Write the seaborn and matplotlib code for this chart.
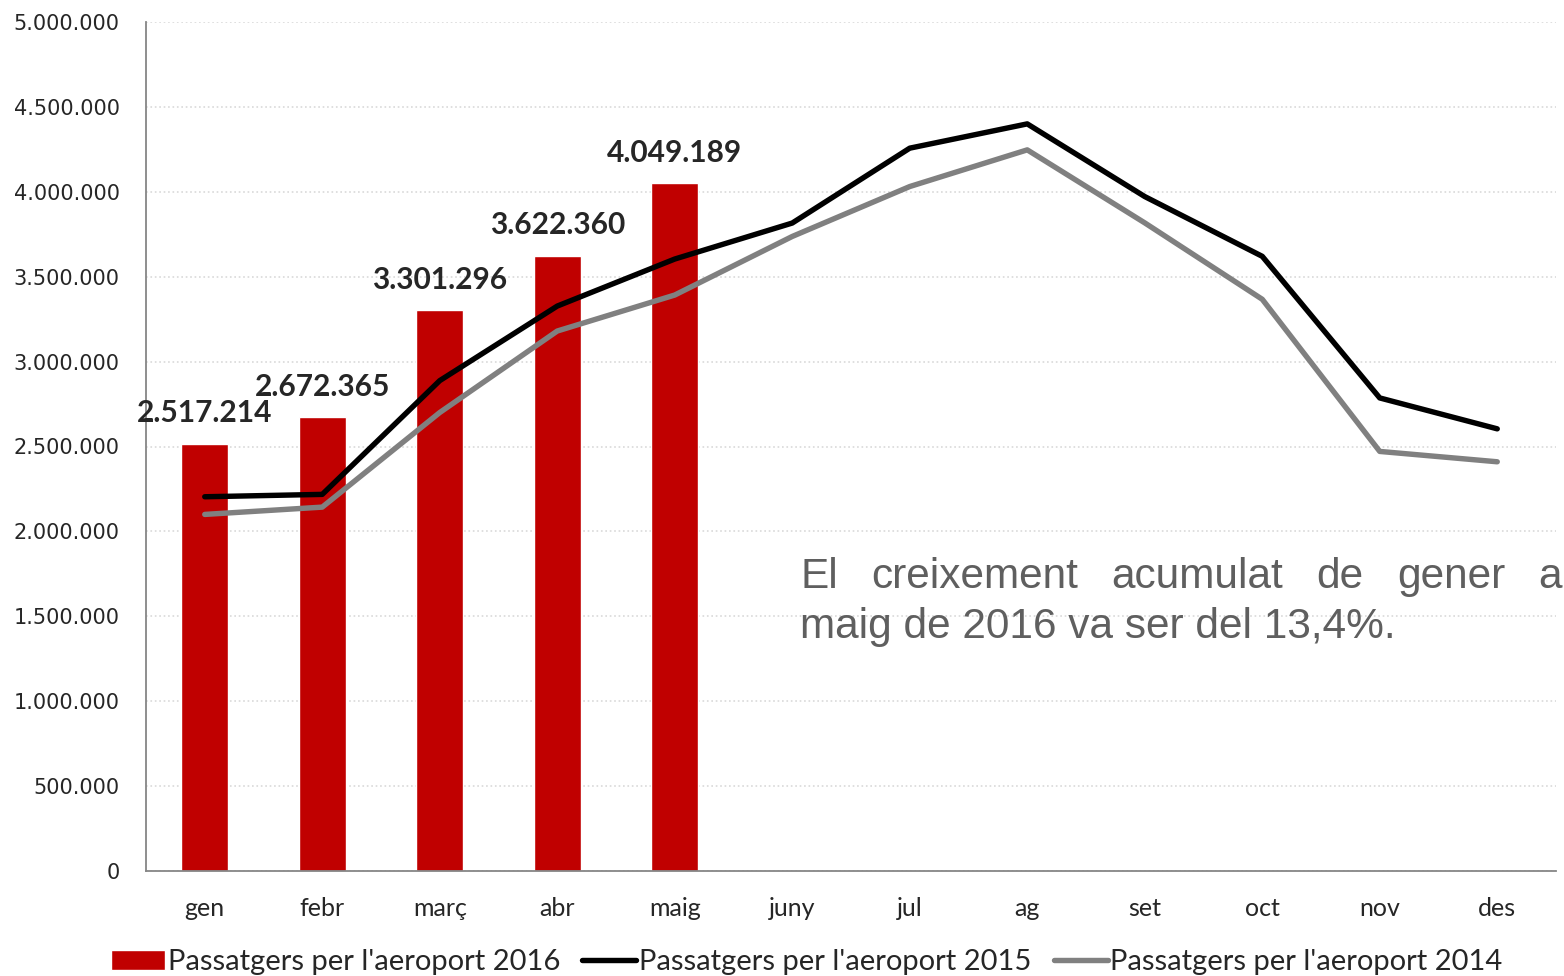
import numpy as np
import pandas as pd
import matplotlib
matplotlib.use("Agg")
import matplotlib.pyplot as plt
from matplotlib.ticker import FuncFormatter, FixedLocator
import seaborn as sns

# data
months = ["gen", "febr", "març", "abr", "maig", "juny", "jul", "ag", "set", "oct", "nov", "des"]
months_2016 = ["gen", "febr", "març", "abr", "maig"]
pax_2016 = [2517214, 2672365, 3301296, 3622360, 4049189]
pax_2015 = [2204000, 2218000, 2888000, 3327000, 3604000, 3816000,
            4257000, 4400000, 3972000, 3620000, 2786000, 2604000]
pax_2014 = [2100000, 2143000, 2700000, 3180000, 3392000, 3737000,
            4031000, 4247000, 3817000, 3367000, 2471000, 2410000]
y_ticks = list(range(0, 5000001, 500000))

lbl16 = "Passatgers per l'aeroport 2016"
lbl15 = "Passatgers per l'aeroport 2015"
lbl14 = "Passatgers per l'aeroport 2014"
note_1 = "El creixement acumulat de gener a"
note_2 = "maig de 2016 va ser del 13,4%."

sns.set_style("white")
plt.rcParams["font.family"] = ["DejaVu Sans"]

def dots(v, pos=None):
    return f"{int(v):,}".replace(",", ".")

fig = plt.figure(figsize=(15.64, 9.76), dpi=100)
ax = fig.add_axes([146 / 1564, 1 - 871 / 976, (1556 - 146) / 1564, (871 - 22) / 976])

bars_df = pd.DataFrame({"month": months_2016, "pax": pax_2016})
sns.barplot(data=bars_df, x="month", y="pax", order=months, color="#C00000",
            saturation=1, width=0.4, ax=ax, label=lbl16)

pos = np.arange(len(months))
sns.lineplot(x=pos, y=pax_2015, color="black", linewidth=3.9, ax=ax, label=lbl15)
sns.lineplot(x=pos, y=pax_2014, color="#808080", linewidth=3.9, ax=ax, label=lbl14)
for ln in ax.lines:
    ln.set_solid_capstyle("round")

ax.bar_label(ax.containers[0], labels=[dots(v) for v in pax_2016], padding=12,
             fontsize=21.5, fontweight="bold", family=["Lato", "DejaVu Sans"])

ax.set_xlim(-0.5, 11.5)
ax.set_ylim(0, 5000000)
ax.set_yticks(y_ticks)
ax.yaxis.set_major_formatter(FuncFormatter(dots))
ax.set_xticks(pos)
ax.set_xticklabels(months, family=["Lato", "DejaVu Sans"], fontsize=18)
ax.xaxis.set_minor_locator(FixedLocator(np.arange(-0.5, 12, 1)))
ax.tick_params(axis="x", which="major", length=0, pad=19)
ax.tick_params(axis="x", which="minor", length=6, width=1.2, color="#868686", direction="out")
ax.tick_params(axis="y", length=5, width=1.2, color="#868686", direction="out",
               labelsize=15, pad=14)
ax.set_xlabel("")
ax.set_ylabel("")

ax.grid(axis="y", color="#D9D9D9", linestyle=":", linewidth=1.2)
ax.set_axisbelow(True)
for s in ["top", "right"]:
    ax.spines[s].set_visible(False)
for s in ["left", "bottom"]:
    ax.spines[s].set_color("#868686")
    ax.spines[s].set_linewidth(1.3)

# legend below the plot
handles, labels = ax.get_legend_handles_labels()
hmap = dict(zip(labels, handles))
if ax.get_legend() is not None:
    ax.get_legend().remove()
fig.legend([hmap[lbl16], hmap[lbl15], hmap[lbl14]], [lbl16, lbl15, lbl14],
           loc="lower center", bbox_to_anchor=(0.516, -0.026), ncol=3, frameon=False,
           prop={"family": ["Lato", "DejaVu Sans"], "size": 21},
           handlelength=1.85, handletextpad=0.1, columnspacing=0.75)

# justified note text
note_kw = dict(fontsize=30.5, color="#5F5F5F", family=["Liberation Sans", "DejaVu Sans"])
x0, x1 = 800 / 1564, 1562 / 1564
fig.canvas.draw()
r = fig.canvas.get_renderer()
words = note_1.split()
tw = [fig.text(0, 1 - 588 / 976, w, va="baseline", **note_kw) for w in words]
widths = [t.get_window_extent(r).width / fig.bbox.width for t in tw]
gap = (x1 - x0 - sum(widths)) / (len(words) - 1)
xx = x0
for t, w in zip(tw, widths):
    t.set_x(xx)
    xx += w + gap
fig.text(x0, 1 - 638 / 976, note_2, va="baseline", **note_kw)

fig.savefig("out.png", dpi=100)
